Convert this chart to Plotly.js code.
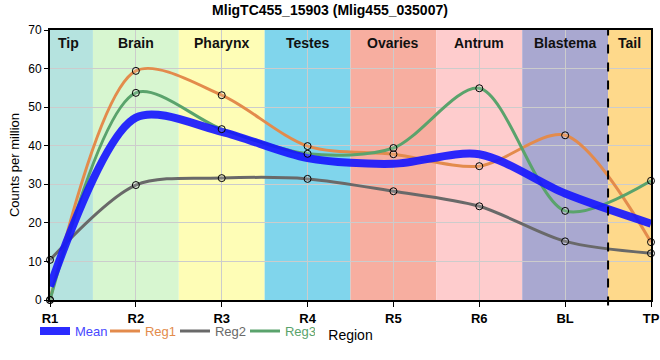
<!DOCTYPE html>
<html>
<head>
<meta charset="utf-8">
<script src="https://cdn.plot.ly/plotly-3.0.1.min.js"></script>
<style>html,body{margin:0;padding:0;background:#fff;}#chart{width:660px;height:360px;}</style>
</head>
<body>
<div id="chart"></div>
<script>
const categories = ['R1','R2','R3','R4','R5','R6','BL','TP'];
const meanVals = [3.5, 47.3, 43.6, 36.8, 35.3, 37.8, 27.6, 19.8];
const reg1 = [0, 59.4, 53.1, 39.9, 37.8, 34.7, 42.7, 15.0];
const reg2 = [10.4, 29.8, 31.6, 31.4, 28.2, 24.3, 15.2, 12.1];
const reg3 = [0, 53.7, 44.3, 37.9, 39.4, 54.9, 23.1, 30.9];

const bandNames = ['Tip','Brain','Pharynx','Testes','Ovaries','Antrum','Blastema','Tail'];
const bandStart = [0, 0.5, 1.5, 2.5, 3.5, 4.5, 5.5, 6.5];
const bandEnd   = [0.5, 1.5, 2.5, 3.5, 4.5, 5.5, 6.5, 7];
const bandColors = ['#b5e3df','#d7f6d0','#fefdb6','#80d5ec','#f7aea0','#fecccd','#a9a8d0','#fed98b'];

const seriesNames = ['Reg1','Reg2','Reg3'];
const seriesVals = [reg1, reg2, reg3];
const seriesColors = ['#e38b4c','#696969','#5aa36c'];
const meanColor = 'rgba(20,20,255,0.9)';

const narrow = 'Liberation Sans Narrow, Arial Narrow, Liberation Sans, Arial, sans-serif';
const regular = 'Liberation Sans, Arial, sans-serif';

const traces = [];
seriesNames.forEach((n, i) => {
  traces.push({
    x: categories, y: seriesVals[i], type: 'scatter', mode: 'lines',
    name: '<span style="color:' + seriesColors[i] + '">' + n + '</span>',
    line: {color: seriesColors[i], width: 3, shape: 'spline', smoothing: 0.85},
    legendrank: 2 + i, hoverinfo: 'skip'
  });
});
traces.push({
  x: categories, y: meanVals, type: 'scatter', mode: 'lines',
  name: '<span style="color:#4848ff">Mean</span>',
  line: {color: meanColor, width: 8, shape: 'spline', smoothing: 0.85},
  legendrank: 1, hoverinfo: 'skip'
});
seriesNames.forEach((n, i) => {
  traces.push({
    x: categories, y: seriesVals[i], type: 'scatter', mode: 'markers',
    showlegend: false, cliponaxis: false,
    marker: {symbol: 'circle', size: 7, color: 'rgba(255,255,255,0.15)', line: {color: '#000', width: 1}},
    hoverinfo: 'skip'
  });
});

const shapes = bandNames.map((b, i) => ({
  type: 'rect', xref: 'x', yref: 'paper', x0: bandStart[i], x1: bandEnd[i], y0: 0, y1: 1,
  fillcolor: bandColors[i], line: {width: 0}, layer: 'below'
}));
shapes.push({
  type: 'line', xref: 'x', yref: 'paper', x0: 6.5, x1: 6.5, y0: -0.02, y1: 1,
  line: {color: '#000', width: 2, dash: 'dash'}, layer: 'above'
});

const annotations = bandNames.map((b, i) => ({
  x: (bandStart[i] + bandEnd[i]) / 2 - (i === 0 ? 0.04 : 0), y: 1, xref: 'x', yref: 'paper',
  yanchor: 'top', yshift: -3, showarrow: false, text: '<b>' + b + '</b>',
  font: {family: narrow, size: 14, color: '#111'}
}));

const layout = {
  width: 660, height: 360,
  margin: {l: 50, r: 9, t: 30, b: 60},
  paper_bgcolor: '#fff', plot_bgcolor: '#fff',
  title: {text: '<b>MligTC455_15903 (Mlig455_035007)</b>', x: 0.5, xanchor: 'center', y: 0.985, yanchor: 'top',
          font: {family: narrow, size: 14, color: '#000'}},
  xaxis: {
    type: 'category', range: [0, 7], tickvals: categories, ticktext: categories.map(c => '<b>' + c + '</b>'),
    tickfont: {family: narrow, size: 13, color: '#000'},
    showgrid: true, gridcolor: '#cccccc', gridwidth: 1,
    showline: true, linecolor: '#000', linewidth: 2, mirror: true,
    ticks: 'outside', ticklen: 5, tickcolor: '#000', tickwidth: 1,
    zeroline: false,
    title: {text: 'Region', font: {family: narrow, size: 14, color: '#000'}, standoff: 6}
  },
  yaxis: {
    range: [0, 70], dtick: 10, tick0: 0,
    tickfont: {family: regular, size: 12, color: '#000'},
    showgrid: true, gridcolor: '#cccccc', gridwidth: 1,
    showline: true, linecolor: '#000', linewidth: 2, mirror: true,
    ticks: 'outside', ticklen: 4, tickcolor: '#000', tickwidth: 1,
    zeroline: false,
    title: {text: 'Counts per million', font: {family: regular, size: 13, color: '#000'}, standoff: 6}
  },
  legend: {orientation: 'h', x: -0.025, xanchor: 'left', y: -0.115, yanchor: 'middle',
           font: {family: narrow, size: 13}, itemwidth: 30, entrywidth: 25, entrywidthmode: 'pixels',
           tracegroupgap: 0, bgcolor: 'rgba(0,0,0,0)'},
  shapes: shapes,
  annotations: annotations,
  showlegend: true
};

Plotly.newPlot('chart', traces, layout, {displayModeBar: false, staticPlot: true});
</script>
</body>
</html>
